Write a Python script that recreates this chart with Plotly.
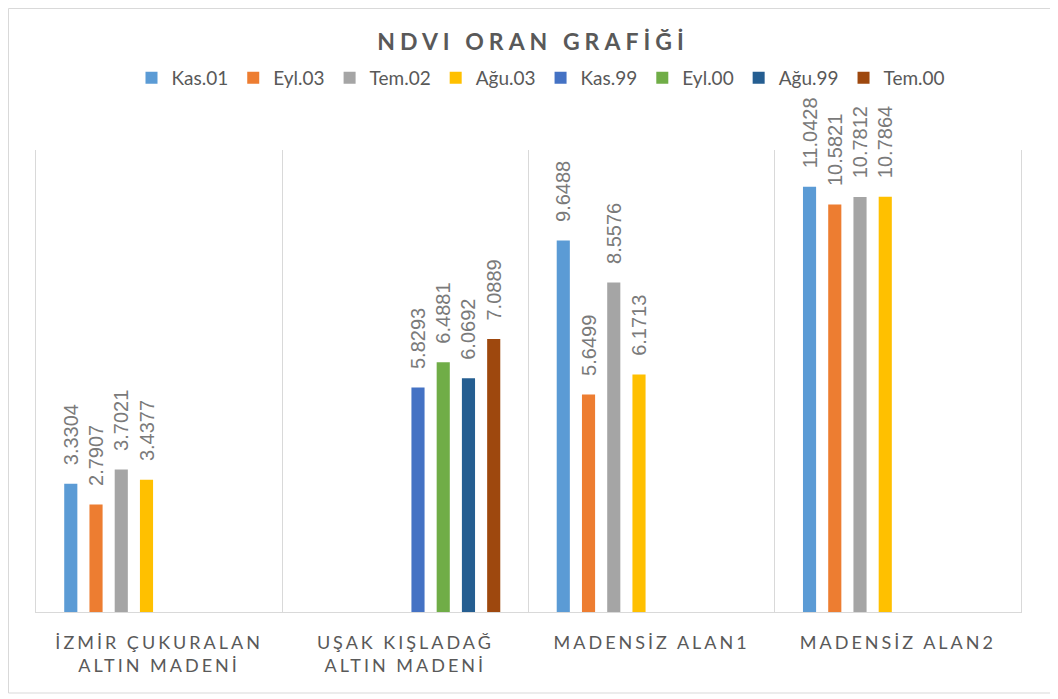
import plotly.graph_objects as go

categories = ["İZMİR ÇUKURALAN<br>ALTIN MADENİ", "UŞAK KIŞLADAĞ<br>ALTIN MADENİ", "MADENSİZ ALAN1", "MADENSİZ ALAN2"]
series_names = ["Kas.01", "Eyl.03", "Tem.02", "Ağu.03", "Kas.99", "Eyl.00", "Ağu.99", "Tem.00"]
colors = ["#5B9BD5", "#ED7D31", "#A5A5A5", "#FFC000", "#4472C4", "#70AD47", "#255E91", "#9E480E"]

kas01 = [3.3304, None, 9.6488, 11.0428]
eyl03 = [2.7907, None, 5.6499, 10.5821]
tem02 = [3.7021, None, 8.5576, 10.7812]
agu03 = [3.4377, None, 6.1713, 10.7864]
kas99 = [None, 5.8293, None, None]
eyl00 = [None, 6.4881, None, None]
agu99 = [None, 6.0692, None, None]
tem00 = [None, 7.0889, None, None]

series_values = [kas01, eyl03, tem02, agu03, kas99, eyl00, agu99, tem00]

# tick labels with letter spacing via inline span style
def spaced(s, px):
    return "<br>".join(f'<span style="letter-spacing:{px}px">{part}</span>' for part in s.split("<br>"))

tick_text = [spaced(c, 3.0) for c in categories]

fig = go.Figure()
for name, vals, col in zip(series_names, series_values, colors):
    fig.add_trace(go.Bar(
        name=name, x=categories, y=vals,
        marker=dict(color=col, line=dict(width=0)),
        text=["" if v is None else f'\u2002\u00a0{v}' for v in vals],
        textposition="outside", textangle=-90, constraintext="none",
        textfont=dict(family="Liberation Sans, Arial", size=20, color="#7A7A7A"),
        cliponaxis=False,
    ))

# body margin of the html page is 8px: lay the figure out in page coords shifted by 8
OFF = 8
W, H = 1058 - OFF, 699 - OFF
ml = 36 - OFF
mr = W - (1021 - OFF)
mt = 150 - OFF
mb = H - (612 - OFF)
pw, ph = W - ml - mr, H - mt - mb

def px_x(p):
    return (p - OFF - ml) / pw

def px_y(p):
    return (H - mb - (p - OFF)) / ph

fig.update_layout(
    width=W, height=H,
    margin=dict(l=ml, r=mr, t=mt, b=mb, pad=0),
    paper_bgcolor="white", plot_bgcolor="white",
    barmode="group", bargap=0.18, bargroupgap=0.48,
    title=dict(text='<b><span style="letter-spacing:5px">NDVI ORAN GRAFİĞİ</span></b>',
               x=0.5, xanchor="center", y=1 - (42 - OFF) / H, yanchor="middle",
               font=dict(family="Lato, Open Sans", size=23, color="#595959")),
    legend=dict(orientation="h", x=px_x(541), xanchor="center", y=px_y(78), yanchor="middle",
                font=dict(family="Lato, Open Sans", size=19, color="#595959"),
                itemwidth=30, tracegroupgap=0, bgcolor="rgba(0,0,0,0)"),
    xaxis=dict(tickson="boundaries", showgrid=True, gridcolor="#D9D9D9", gridwidth=1,
               showline=True, linecolor="#D9D9D9", linewidth=1, ticks="",
               tickmode="array", tickvals=categories, ticktext=tick_text,
               ticklabelstandoff=14,
               tickfont=dict(family="Lato, Open Sans", size=18, color="#595959")),
    yaxis=dict(range=[0, 12], showgrid=False, showticklabels=False, zeroline=False,
               showline=True, mirror=True, linecolor="#D9D9D9", linewidth=1),
    shapes=[dict(type="rect", xref="paper", yref="paper",
                 x0=px_x(OFF + 0.5), x1=px_x(1052), y0=px_y(693), y1=px_y(OFF + 0.5),
                 line=dict(color="#D9D9D9", width=1), layer="below")],
    showlegend=True,
)

fig.write_html("out.html")
